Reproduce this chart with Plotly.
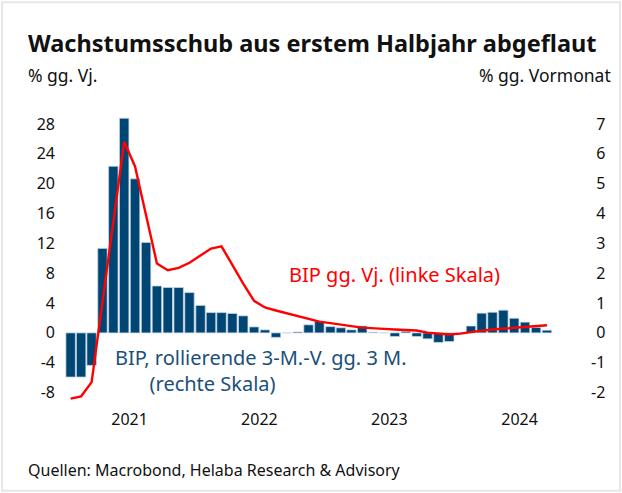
import plotly.graph_objects as go

# ---- data ----
months = [f"{y}-{m:02d}" for y in (2021, 2022, 2023, 2024) for m in range(1, 13)][:45]

bip_3m = [-1.48, -1.48, -1.09, 2.83, 5.58, 7.19, 5.16, 3.03, 1.57, 1.52, 1.52, 1.35,
          0.92, 0.68, 0.68, 0.65, 0.57, 0.20, 0.10, -0.15, 0.00, 0.03, 0.27, 0.39,
          0.21, 0.17, 0.10, 0.23, 0.02, 0.00, -0.12, 0.05, -0.12, -0.20, -0.32, -0.29,
          0.00, 0.23, 0.66, 0.69, 0.76, 0.49, 0.36, 0.18, 0.09]

bip_yoy = [-8.8, -8.5, -6.6, 3.9, 15.0, 25.6, 22.3, 15.9, 9.3, 8.4, 8.7, 9.4,
           10.4, 11.3, 11.6, 9.0, 6.6, 4.3, 3.4, 3.0, 2.6, 2.3, 1.9, 1.5,
           1.3, 1.07, 0.9, 0.71, 0.58, 0.53, 0.45, 0.40, 0.31, 0.04, -0.13, -0.22,
           -0.10, 0.13, 0.30, 0.45, 0.58, 0.67, 0.80, 0.94, 1.03]

year_tickvals = ["2021-07-01", "2022-07-01", "2023-07-01", "2024-07-01"]
year_ticktext = ["2021", "2022", "2023", "2024"]
left_ticks = [-8, -4, 0, 4, 8, 12, 16, 20, 24, 28]
left_ticktext = ["-8", "-4", "0", "4", "8", "12", "16", "20", "24", "28"]
right_ticks = [-2, -1, 0, 1, 2, 3, 4, 5, 6, 7]
right_ticktext = ["-2", "-1", "0", "1", "2", "3", "4", "5", "6", "7"]

# ---- layout geometry ----
W, H = 622, 493
L, R, T, B = 58, 590, 108.9, 408.2
ZERO_PX, PX_PER_UNIT = 333.0, 7.47          # left-axis scale (right axis = left / 4)
left_range = [-(B - ZERO_PX) / PX_PER_UNIT, (ZERO_PX - T) / PX_PER_UNIT]
right_range = [v / 4 for v in left_range]

FONT = "Noto Sans"
BLUE = "#004674"
TXTBLUE = "#1a4f7a"
RED = "#ff0000"
DARK = "#111111"
HIDDEN_MINUS = "<span style='color:rgba(0,0,0,0)'>-</span>"


def px(xp):
    return (xp - L) / (R - L)


def py(yp):
    return (B - yp) / (B - T)


fig = go.Figure()
fig.add_trace(go.Bar(
    x=months, y=bip_3m, xperiod="M1", xperiodalignment="middle",
    marker=dict(color=BLUE, line=dict(color="rgba(200,215,228,0.9)", width=0.8)),
    yaxis="y", showlegend=False))
fig.add_trace(go.Scatter(
    x=months, y=bip_yoy, xperiod="M1", xperiodalignment="middle",
    mode="lines", line=dict(color=RED, width=2.4),
    yaxis="y2", showlegend=False))

ann = []
ann.append(dict(text="<b>Wachstumsschub aus erstem Halbjahr abgeflaut</b>",
                x=px(26), y=py(43), xanchor="left", yanchor="middle",
                font=dict(size=23.5, color=DARK, family=FONT)))
ann.append(dict(text="% gg. Vj.", x=px(26), y=py(75), xanchor="left", yanchor="middle",
                font=dict(size=17.5, color=DARK, family=FONT)))
ann.append(dict(text="% gg. Vormonat", x=px(613), y=py(75), xanchor="right", yanchor="middle",
                font=dict(size=17.5, color=DARK, family=FONT)))
ann.append(dict(text="BIP gg. Vj. (linke Skala)", x=px(287), y=py(275), xanchor="left",
                yanchor="middle", font=dict(size=20, color=RED, family=FONT)))
ann.append(dict(text="BIP, rollierende 3-M.-V. gg. 3 M.<br>" + "&nbsp;" * 6 + "&#8201;(rechte Skala)",
                x=px(113), y=py(371), xanchor="left", yanchor="middle", align="left",
                font=dict(size=20, color=TXTBLUE, family=FONT)))
ann.append(dict(text="Quellen: Macrobond, Helaba Research &amp; Advisory", x=px(26), y=py(470),
                xanchor="left", yanchor="middle",
                font=dict(size=16, color=DARK, family=FONT)))
for a in ann:
    a.update(xref="paper", yref="paper", showarrow=False)

fig.update_layout(
    width=W, height=H,
    margin=dict(l=L, r=W - R, t=T, b=H - B, pad=0),
    paper_bgcolor="white", plot_bgcolor="white",
    font=dict(family=FONT, size=16, color=DARK),
    bargap=0.1,
    xaxis=dict(type="date", range=["2020-12-12", "2025-01-15"],
               tickvals=year_tickvals, ticktext=year_ticktext,
               showgrid=False, zeroline=False, showline=False, ticks="",
               tickfont=dict(size=16, family=FONT, color=DARK)),
    yaxis=dict(side="right", range=right_range, tickvals=right_ticks,
               ticktext=[t if t.startswith("-") else HIDDEN_MINUS + t for t in right_ticktext],
               showgrid=False, zeroline=False, showline=False, ticks="",
               tickfont=dict(size=16, family=FONT, color=DARK)),
    yaxis2=dict(side="left", overlaying="y", range=left_range, tickvals=left_ticks,
                ticktext=left_ticktext, ticklabelstandoff=2,
                showgrid=False, zeroline=False, showline=False, ticks="",
                tickfont=dict(size=16, family=FONT, color=DARK)),
    annotations=ann,
    shapes=[dict(type="rect", xref="paper", yref="paper",
                 x0=px(2), x1=px(620), y0=py(491), y1=py(2),
                 line=dict(color="#e6e6e6", width=2), fillcolor="rgba(0,0,0,0)", layer="below")],
)

fig.write_html("out.html", config={"displayModeBar": False},
               post_script="document.body.style.margin='0';document.body.style.padding='0';")
